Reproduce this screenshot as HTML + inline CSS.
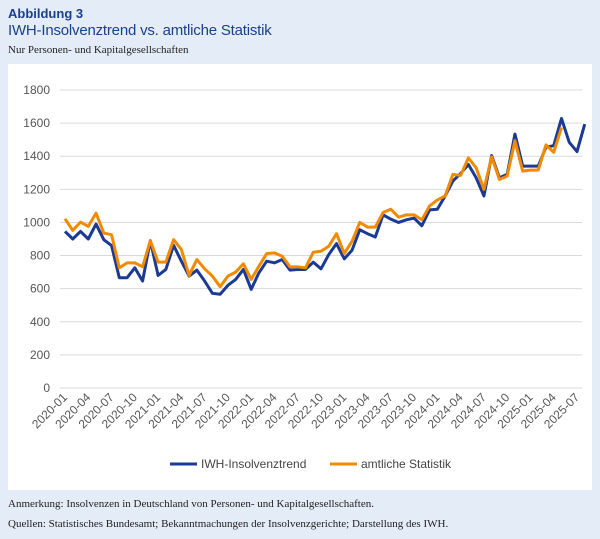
<!DOCTYPE html>
<html><head><meta charset="utf-8">
<style>
body{margin:0;width:600px;height:539px;background:#e3ecf7;font-family:"Liberation Sans",sans-serif;overflow:hidden;position:relative}
.t1{position:absolute;left:8px;top:6px;font-size:13px;font-weight:bold;color:#1b3f8f}
.t2{position:absolute;left:8px;top:22px;font-size:15px;color:#1b3f8f;letter-spacing:-0.2px}
.t3{position:absolute;left:8px;top:44px;font-size:11px;font-family:"Liberation Serif",serif;color:#222}
.panel{position:absolute;left:8px;top:64px;width:584px;height:426px;background:#fff}
.f{position:absolute;left:8px;font-size:11px;font-family:"Liberation Serif",serif;color:#222}
svg{position:absolute;left:0;top:0}
</style></head><body>
<div class="t1">Abbildung 3</div>
<div class="t2">IWH-Insolvenztrend vs. amtliche Statistik</div>
<div class="t3">Nur Personen- und Kapitalgesellschaften</div>
<div class="panel"></div>
<div class="f" style="top:498px">Anmerkung: Insolvenzen in Deutschland von Personen- und Kapitalgesellschaften.</div>
<div class="f" style="top:518px">Quellen: Statistisches Bundesamt; Bekanntmachungen der Insolvenzgerichte; Darstellung des IWH.</div>
<svg id="chart" width="600" height="539"></svg>
<script>
const yTicks=[0,200,400,600,800,1000,1200,1400,1600,1800];
const months=[];for(let y=2020;y<=2025;y++)for(let m=1;m<=12;m++){if(y===2025&&m>7)break;months.push(y+"-"+String(m).padStart(2,"0"));}
const iwh=[946,900,946,900,990,896,860,666,666,726,646,890,680,716,862,766,676,712,646,572,566,620,656,716,596,696,766,756,776,712,716,716,760,720,806,872,780,832,956,932,912,1046,1020,1000,1016,1026,980,1076,1080,1160,1250,1296,1350,1270,1160,1404,1270,1290,1534,1340,1340,1340,1454,1464,1628,1484,1428,1594];
const amtlich=[1022,952,1002,976,1056,936,926,726,756,756,732,890,760,760,896,836,680,776,720,676,612,676,700,750,656,736,812,816,796,732,732,726,820,826,856,932,812,886,1000,972,972,1060,1080,1032,1046,1046,1016,1100,1136,1160,1290,1284,1390,1330,1200,1396,1260,1280,1494,1310,1316,1316,1468,1424,1574];
const NS="http://www.w3.org/2000/svg",svg=document.getElementById("chart");
const x0=65,x1=577,yb=388,yt=90;
const X=i=>x0+(x1-x0)*i/(months.length-1);
const Y=v=>yb-(yb-yt)*v/1800;
function mk(t,a){const e=document.createElementNS(NS,t);for(const k in a)e.setAttribute(k,a[k]);svg.appendChild(e);return e;}
yTicks.forEach(v=>{
 const l=mk("line",{x1:x0-5,x2:x1+5,y1:Y(v),y2:Y(v),stroke:"#d9d9d9","stroke-width":1});
 
 
 const t=mk("text",{x:50,y:Y(v)+4,"text-anchor":"end","font-size":12,fill:"#555","font-family":"Liberation Sans, sans-serif"});t.textContent=v;
 
 
});
months.forEach((m,i)=>{if(i%3)return;
 const t=mk("text",{x:X(i)+3,y:yb+10,"text-anchor":"end","font-size":12,fill:"#555","font-family":"Liberation Sans, sans-serif",transform:`rotate(-45 ${X(i)+3} ${yb+10})`});t.textContent=m;
 
 
});
function line(d,c,n){const p=mk("polyline",{points:d.map((v,i)=>X(i)+","+Y(v)).join(" "),fill:"none",stroke:c,"stroke-width":3,"stroke-linejoin":"round"});
 
 }
line(iwh,"#1a3a94","iwh-series-line");
line(amtlich,"#f28a00","amtliche-series-line");
const lg=[["IWH-Insolvenztrend","#1a3a94",170],["amtliche Statistik","#f28a00",330]];
lg.forEach(([s,c,x])=>{
 const l=mk("line",{x1:x,x2:x+27,y1:464,y2:464,stroke:c,"stroke-width":3});
 
 
 const t=mk("text",{x:x+31,y:468,"font-size":12,fill:"#444","font-family":"Liberation Sans, sans-serif"});t.textContent=s;
 
 
});
</script>
</body></html>
